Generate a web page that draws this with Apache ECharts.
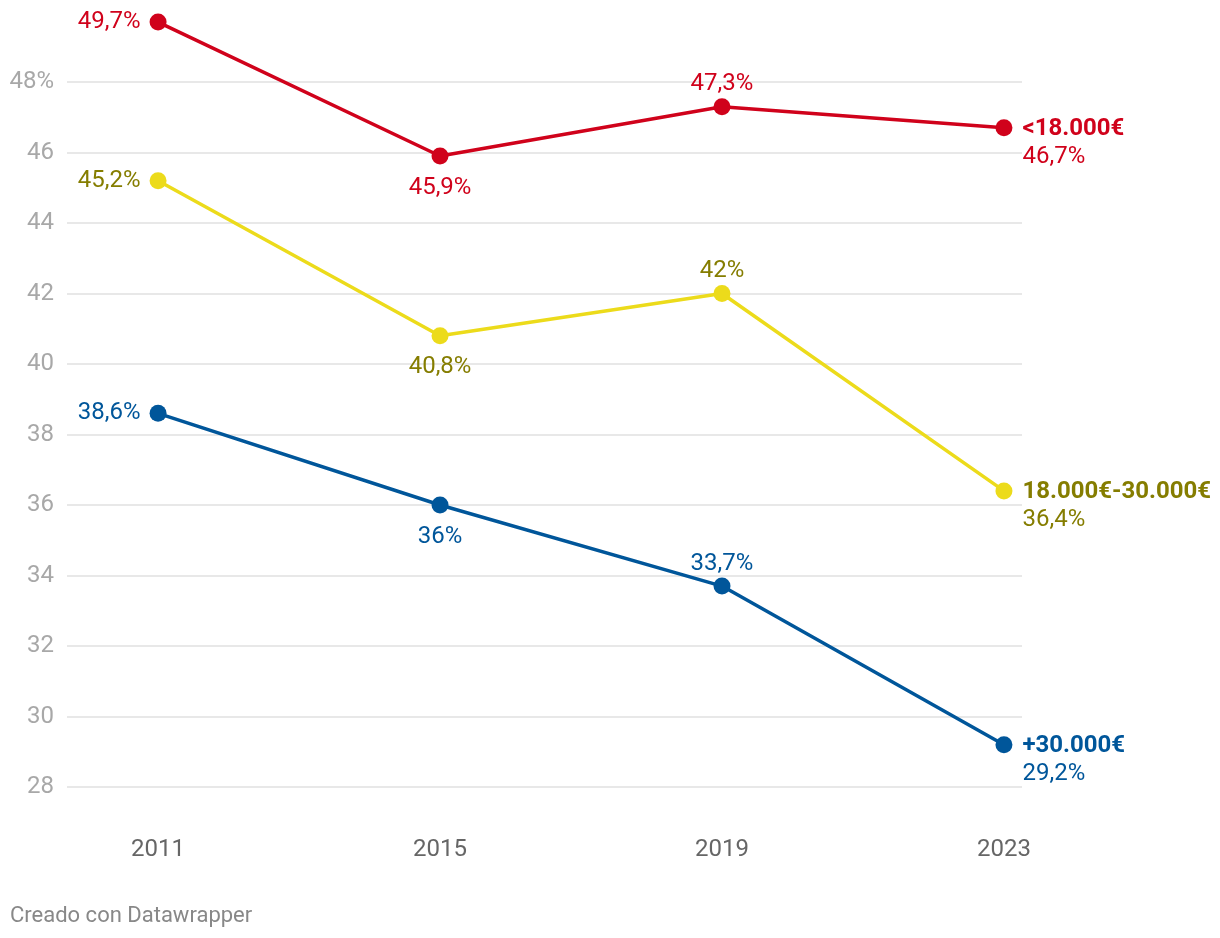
<!DOCTYPE html>
<html>
<head>
<meta charset="utf-8">
<script src="https://cdn.jsdelivr.net/npm/echarts@6/dist/echarts.min.js"></script>
<style>
html,body{margin:0;padding:0;background:#fff;}
#chart{width:1220px;height:938px;}
</style>
</head>
<body>
<div id="chart"></div>
<script>
const years = [2011, 2015, 2019, 2023];
const seriesNames = ['<18.000€', '18.000€-30.000€', '+30.000€'];
const lowIncome = [49.7, 45.9, 47.3, 46.7];
const midIncome = [45.2, 40.8, 42.0, 36.4];
const highIncome = [38.6, 36.0, 33.7, 29.2];
const yTicks = [28, 30, 32, 34, 36, 38, 40, 42, 44, 46, 48];

const lineColors = ['#d0021b', '#ecdb1b', '#00569a'];
const textColors = ['#d0021b', '#857d00', '#00569a'];
const FS = 24;

function fmt(v) {
  return String(v).replace('.', ',') + '%';
}

function buildData(values, idx) {
  return values.map((v, i) => {
    const item = { value: [years[i], v] };
    let label;
    if (i === 0) {
      label = { position: 'left', distance: 9, formatter: fmt(v) };
    } else if (i === 1) {
      label = { position: 'bottom', distance: 11, formatter: fmt(v) };
    } else if (i === 2) {
      label = { position: 'top', distance: 2, formatter: fmt(v) };
    } else {
      label = {
        position: 'right', distance: 10, align: 'left', offset: [0, 15],
        formatter: '{n|' + seriesNames[idx] + '}\n{v|' + fmt(v) + '}',
        rich: {
          n: { fontFamily: 'Roboto', fontSize: FS, fontWeight: 'bold', color: textColors[idx], lineHeight: 28 },
          v: { fontFamily: 'Roboto', fontSize: FS, color: textColors[idx], lineHeight: 28 }
        }
      };
    }
    item.label = Object.assign({ show: true, color: textColors[idx], fontFamily: 'Roboto', fontSize: FS }, label);
    return item;
  });
}

const allValues = [lowIncome, midIncome, highIncome];

const chart = echarts.init(document.getElementById('chart'), null, { renderer: 'canvas' });
chart.setOption({
  animation: false,
  grid: { left: 67, right: 198, top: 11.5, height: 775.5 },
  xAxis: {
    type: 'value',
    min: 2009.708,
    max: 2023.256,
    axisLine: { show: false },
    axisTick: { show: false },
    splitLine: { show: false },
    axisLabel: {
      customValues: years,
      margin: 51,
      color: '#666',
      fontFamily: 'Roboto',
      fontSize: FS,
      formatter: v => String(v)
    }
  },
  yAxis: {
    type: 'value',
    min: 28,
    max: 50,
    interval: 2,
    axisLine: { show: false },
    axisTick: { show: false },
    splitLine: { show: true, showMaxLine: false, lineStyle: { color: '#e0e0e0', width: 1.5 } },
    axisLabel: {
      margin: 13,
      color: '#a8a8a8',
      fontFamily: 'Roboto',
      fontSize: FS,
      showMaxLabel: false,
      padding: [3, 0, 0, 0],
      formatter: v => (v === 48 ? v + '%' : (v === 50 ? '' : String(v)))
    }
  },
  series: allValues.map((vals, idx) => ({
    name: seriesNames[idx],
    type: 'line',
    data: buildData(vals, idx),
    symbol: 'circle',
    symbolSize: 17,
    lineStyle: { color: lineColors[idx], width: 3.5 },
    itemStyle: { color: lineColors[idx] },
    z: 3 - idx
  })),
  graphic: [{
    type: 'text',
    left: 10,
    top: 905,
    style: { text: 'Creado con Datawrapper', fill: '#888', font: '22px Roboto' }
  }]
});
</script>
</body>
</html>
